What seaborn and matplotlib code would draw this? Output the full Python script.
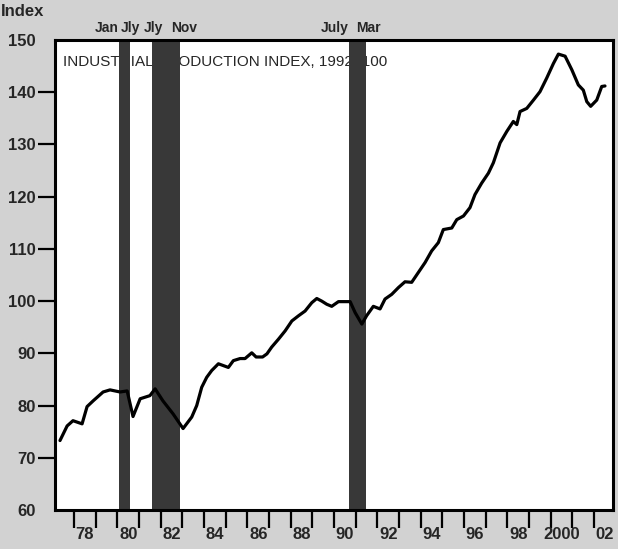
import matplotlib.pyplot as plt
import matplotlib.transforms as mtransforms
import seaborn as sns

# industrial production index, 1992=100
years = [1977.35, 1977.68, 1977.95, 1978.37, 1978.6, 1978.88, 1979.34, 1979.66,
         1980.12, 1980.45, 1980.72, 1981.05, 1981.5, 1981.74, 1982.1, 1982.57,
         1983.03, 1983.43, 1983.66, 1983.89, 1984.12, 1984.35, 1984.66, 1985.12,
         1985.35, 1985.66, 1985.89, 1986.2, 1986.4, 1986.7, 1986.9, 1987.12,
         1987.43, 1987.74, 1988.05, 1988.36, 1988.66, 1988.97, 1989.2, 1989.43,
         1989.66, 1989.89, 1990.2, 1990.74, 1990.97, 1991.28, 1991.5, 1991.81,
         1992.12, 1992.35, 1992.66, 1992.97, 1993.27, 1993.58, 1993.89, 1994.2,
         1994.5, 1994.81, 1995.04, 1995.43, 1995.66, 1995.97, 1996.27, 1996.5,
         1996.81, 1997.12, 1997.35, 1997.66, 1997.97, 1998.27, 1998.43, 1998.58,
         1998.89, 1999.2, 1999.5, 1999.81, 2000.12, 2000.35, 2000.66, 2000.97,
         2001.27, 2001.5, 2001.66, 2001.84, 2002.12, 2002.35, 2002.5]
index = [73.3, 76.1, 77.1, 76.5, 79.8, 80.9, 82.6, 83.0,
         82.6, 82.8, 77.9, 81.3, 81.9, 83.2, 80.9, 78.4,
         75.6, 77.8, 80.0, 83.5, 85.4, 86.7, 88.0, 87.3,
         88.6, 89.0, 89.0, 90.1, 89.3, 89.3, 89.9, 91.2,
         92.7, 94.3, 96.2, 97.2, 98.1, 99.7, 100.5, 100.0,
         99.4, 99.0, 99.9, 99.9, 97.8, 95.6, 97.2, 99.0,
         98.5, 100.4, 101.3, 102.6, 103.7, 103.6, 105.5, 107.4,
         109.6, 111.2, 113.7, 114.0, 115.6, 116.3, 117.9, 120.4,
         122.6, 124.5, 126.5, 130.3, 132.5, 134.4, 133.8, 136.3,
         136.9, 138.5, 140.1, 142.7, 145.5, 147.3, 146.9, 144.3,
         141.4, 140.4, 138.2, 137.3, 138.5, 141.1, 141.2]

# recession bands (start, end) and month labels above them
recessions = [(1980.07, 1980.6), (1981.58, 1982.89), (1990.69, 1991.47)]
month_labels = ['Jan', 'Jly', 'Jly', 'Nov', 'July', 'Mar']
month_x = [1979.52, 1980.58, 1981.65, 1983.08, 1990.05, 1991.57]

year_ticks = list(range(1978, 2003))
label_years = list(range(1978, 2003, 2))
label_text = ['78', '80', '82', '84', '86', '88', '90', '92', '94', '96', '98', '2000', '02']
y_ticks = list(range(60, 151, 10))

sns.set_style('white')
font = 'Liberation Sans'

fig = plt.figure(figsize=(6.18, 5.49), dpi=100, facecolor='#d2d2d2')
ax = fig.add_axes([55 / 618, 1 - 510 / 549, 558 / 618, 470 / 549])
ax.set_facecolor('white')

for x0, x1 in recessions:
    ax.axvspan(x0, x1, color='#383838', lw=0, zorder=2)

sns.lineplot(x=years, y=index, ax=ax, color='black', lw=2.3, zorder=3)

ax.set_xlim(1977.12, 2002.87)
ax.set_ylim(60, 150)

ax.set_xticks(year_ticks)
ax.set_xticklabels([])
ax.set_xticks([y + 0.5 for y in label_years], minor=True)
ax.set_xticklabels(label_text, minor=True, fontweight='bold', fontsize=12, family=font)
ax.tick_params(axis='x', which='major', direction='out', length=13, width=1.6, color='black', bottom=True)
ax.tick_params(axis='x', which='minor', length=0, pad=12, bottom=True)

ax.set_yticks(y_ticks)
ax.set_yticklabels([str(v) for v in y_ticks], fontweight='bold', fontsize=12, family=font)
ax.tick_params(axis='y', direction='out', length=12, width=1.6, color='black', left=True, pad=2)
for t in (ax.yaxis.get_major_ticks()[0], ax.yaxis.get_major_ticks()[-1]):
    t.tick1line.set_visible(False)

for s in ax.spines.values():
    s.set_linewidth(2.2)
    s.set_color('black')
    s.set_zorder(4)

ax.set_xlabel('')
ax.set_ylabel('')

ax.text(0.014, 0.953, 'INDUSTRIAL PRODUCTION INDEX, 1992=100', transform=ax.transAxes,
        ha='left', va='center', fontsize=11, family=font, zorder=1)

trans = mtransforms.blended_transform_factory(ax.transData, ax.transAxes)
for lab, xx in zip(month_labels, month_x):
    ax.text(xx, 1.026, lab, transform=trans, ha='center', va='center',
            fontsize=10, fontweight='bold', family=font)

ax.text(-0.059, 1.06, 'Index', transform=ax.transAxes, ha='center', va='center',
        fontsize=12, fontweight='bold', family=font)

fig.savefig('out.png', dpi=100, facecolor=fig.get_facecolor())
